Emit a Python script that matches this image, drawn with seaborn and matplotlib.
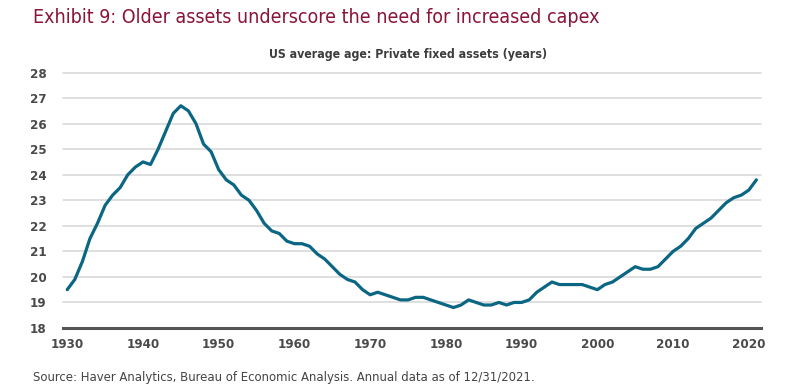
import matplotlib
matplotlib.use("Agg")
import matplotlib.pyplot as plt
import pandas as pd
import seaborn as sns

years = list(range(1930, 2022))
avg_age = [
    19.5, 19.9, 20.6, 21.5, 22.1, 22.8, 23.2, 23.5, 24.0, 24.3,   # 1930s
    24.5, 24.4, 25.0, 25.7, 26.4, 26.7, 26.5, 26.0, 25.2, 24.9,   # 1940s
    24.2, 23.8, 23.6, 23.2, 23.0, 22.6, 22.1, 21.8, 21.7, 21.4,   # 1950s
    21.3, 21.3, 21.2, 20.9, 20.7, 20.4, 20.1, 19.9, 19.8, 19.5,   # 1960s
    19.3, 19.4, 19.3, 19.2, 19.1, 19.1, 19.2, 19.2, 19.1, 19.0,   # 1970s
    18.9, 18.8, 18.9, 19.1, 19.0, 18.9, 18.9, 19.0, 18.9, 19.0,   # 1980s
    19.0, 19.1, 19.4, 19.6, 19.8, 19.7, 19.7, 19.7, 19.7, 19.6,   # 1990s
    19.5, 19.7, 19.8, 20.0, 20.2, 20.4, 20.3, 20.3, 20.4, 20.7,   # 2000s
    21.0, 21.2, 21.5, 21.9, 22.1, 22.3, 22.6, 22.9, 23.1, 23.2,   # 2010s
    23.4, 23.8,                                                   # 2020s
]
x_ticks = list(range(1930, 2021, 10))
y_ticks = list(range(18, 29))

title = "Exhibit 9: Older assets underscore the need for increased capex"
subtitle = "US average age: Private fixed assets (years)"
source = "Source: Haver Analytics, Bureau of Economic Analysis. Annual data as of 12/31/2021."

df = pd.DataFrame({"year": years, "age": avg_age})

sns.set_style("white")
plt.rcParams["font.family"] = ["DejaVu Sans"]
plt.rcParams["font.stretch"] = "condensed"

fig = plt.figure(figsize=(8, 3.9), dpi=100)
ax = fig.add_axes([0.079, 0.159, 0.872, 0.655])

# gridlines behind the line
for v in y_ticks[1:]:
    ax.axhline(v, color="#d6d6d6", lw=1.1, zorder=0, clip_on=False)

sns.lineplot(data=df, x="year", y="age", ax=ax, color="#0b6683", lw=2.3, zorder=3)

ax.set_xlim(1929.47, 2021.58)
ax.set_ylim(18, 28)
ax.set_xticks(x_ticks)
ax.set_yticks(y_ticks)
ax.set_xlabel("")
ax.set_ylabel("")
ax.tick_params(axis="both", length=0, labelsize=9.5, labelcolor="#4a4a4a")
ax.tick_params(axis="y", pad=12)
ax.tick_params(axis="x", pad=7)
for lbl in ax.get_xticklabels() + ax.get_yticklabels():
    lbl.set_fontweight("bold")

for side in ["top", "right", "left"]:
    ax.spines[side].set_visible(False)
ax.spines["bottom"].set_color("#555555")
ax.spines["bottom"].set_linewidth(2.2)

fig.text(0.041, 0.955, title, color="#8a1538", fontsize=14, ha="left", va="center")
fig.text(0.51, 0.859, subtitle, color="#3d3d3d", fontsize=8.8, fontweight="bold",
         ha="center", va="center")
fig.text(0.041, 0.033, source, color="#444444", fontsize=9.4, ha="left", va="center")

fig.savefig("out.png", dpi=100)
